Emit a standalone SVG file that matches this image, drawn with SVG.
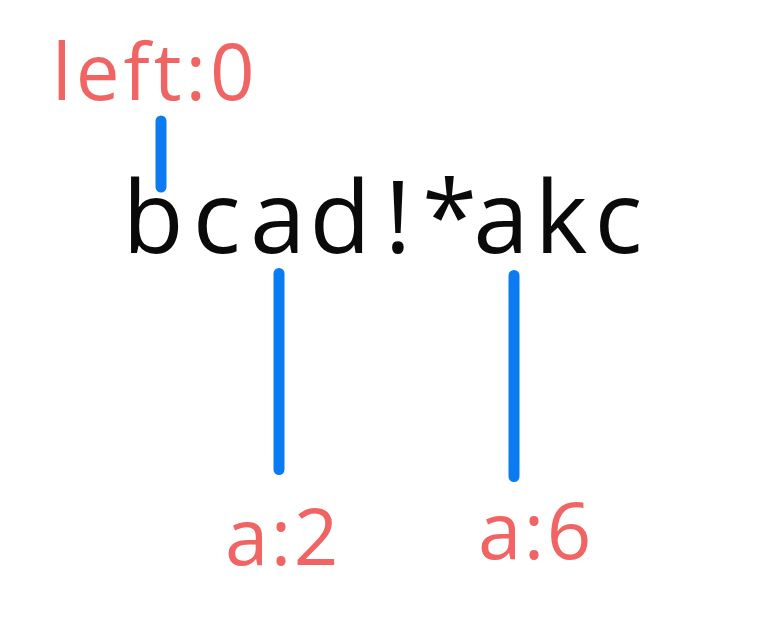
<svg xmlns="http://www.w3.org/2000/svg" width="764" height="636" viewBox="0 0 764 636">
<style>
.lbl{font-family:"Open Sans","Noto Sans","DejaVu Sans",sans-serif;fill:#f06464;font-size:78px}
.main{font-family:"Open Sans","Noto Sans","DejaVu Sans",sans-serif;fill:#0a0a0a;font-size:100px}
.mark{stroke:#0a7bf0;stroke-width:11;stroke-linecap:round;fill:none}
</style>
<rect width="764" height="636" fill="#ffffff"/>
<g id="string"><text class="main" x="122.5 192.7 250 309.4 384.7 422 473.3 534.8 594.4" y="253">bcad!*akc</text></g>
<g id="left-label"><text class="lbl" x="52" y="100" letter-spacing="4">left:0</text></g>
<g id="a2-label"><text class="lbl" x="225" y="565" letter-spacing="2.5">a:2</text></g>
<g id="a6-label"><text class="lbl" x="478" y="559" letter-spacing="2.5">a:6</text></g>
<g id="connectors">
<line class="mark" x1="161" y1="121" x2="161" y2="187"/>
<line class="mark" x1="279" y1="273.5" x2="279" y2="469.5"/>
<line class="mark" x1="514" y1="275.5" x2="514" y2="476.5"/>
</g>
</svg>
